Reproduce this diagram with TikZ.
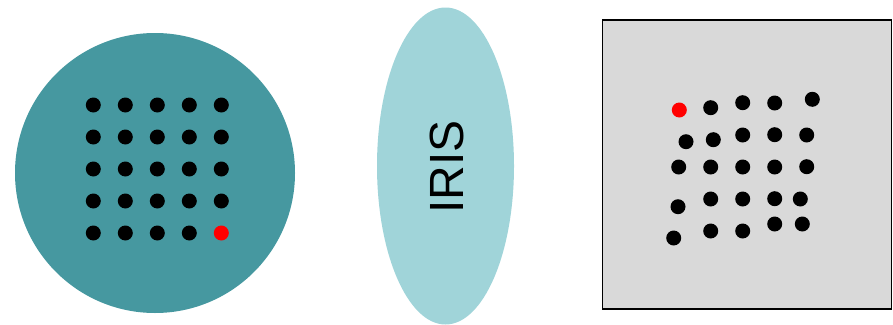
\documentclass[tikz,border=0pt]{standalone}
\usepackage{fontspec}
\setmainfont{Liberation Sans}
\usetikzlibrary{shapes.geometric}
\definecolor{tealdark}{RGB}{70,152,160}
\definecolor{teallight}{RGB}{160,212,217}
\definecolor{panelgray}{RGB}{217,217,217}
\tikzset{
  dot/.style={circle, fill=black, minimum size=15pt, inner sep=0pt},
  reddot/.style={dot, fill=red},
}
\begin{document}
\begin{tikzpicture}[x=1pt,y=-1pt]
\useasboundingbox (0,0) rectangle (893,324);

% object plane: disc with a regular 5x5 grid of points
\node[circle, fill=tealdark, minimum size=280pt, inner sep=0pt] (disc) at (155,173) {};
\foreach \i/\x in {1/93.3,2/125.3,3/157.3,4/189.3,5/221.3}{
  \foreach \j/\y in {1/105,2/137,3/169,4/201}{
    \node[dot] (g\j\i) at (\x,\y) {};
  }
}
\foreach \i/\x in {1/93.3,2/125.3,3/157.3,4/189.3}{
  \node[dot] (g5\i) at (\x,233) {};
}
\node[reddot] (g55) at (221.3,233) {};

% lens
\node[ellipse, fill=teallight, minimum width=137pt, minimum height=317pt, inner sep=0pt] (iris) at (445.5,166) {};
\node[rotate=90, font=\fontsize{48}{48}\selectfont] (iristext) at (446.5,167) {IRIS};

% image plane: inverted, distorted grid
\node[draw=black, line width=1.5pt, fill=panelgray, minimum size=289pt, inner sep=0pt] (screen) at (746.75,164.5) {};
\node[reddot] (s11) at (679.3,110) {};
\node[dot] (s12) at (710.7,107.7) {};
\node[dot] (s13) at (742.7,102.7) {};
\node[dot] (s14) at (774.7,103) {};
\node[dot] (s15) at (812.3,99.3) {};
\node[dot] (s21) at (686,141.7) {};
\node[dot] (s22) at (713.3,139.7) {};
\node[dot] (s23) at (742.7,135) {};
\node[dot] (s24) at (774.7,134.7) {};
\node[dot] (s25) at (806.7,135) {};
\node[dot] (s31) at (678.7,167) {};
\node[dot] (s32) at (710.7,167) {};
\node[dot] (s33) at (742.7,167) {};
\node[dot] (s34) at (774.7,167) {};
\node[dot] (s35) at (806.7,166.7) {};
\node[dot] (s41) at (678,206.7) {};
\node[dot] (s42) at (710.7,199) {};
\node[dot] (s43) at (742.7,199) {};
\node[dot] (s44) at (774.7,198.7) {};
\node[dot] (s45) at (800.3,199) {};
\node[dot] (s51) at (673.7,238) {};
\node[dot] (s52) at (710.7,231) {};
\node[dot] (s53) at (742.7,231) {};
\node[dot] (s54) at (774.7,224) {};
\node[dot] (s55) at (802.3,224) {};
\end{tikzpicture}
\end{document}
